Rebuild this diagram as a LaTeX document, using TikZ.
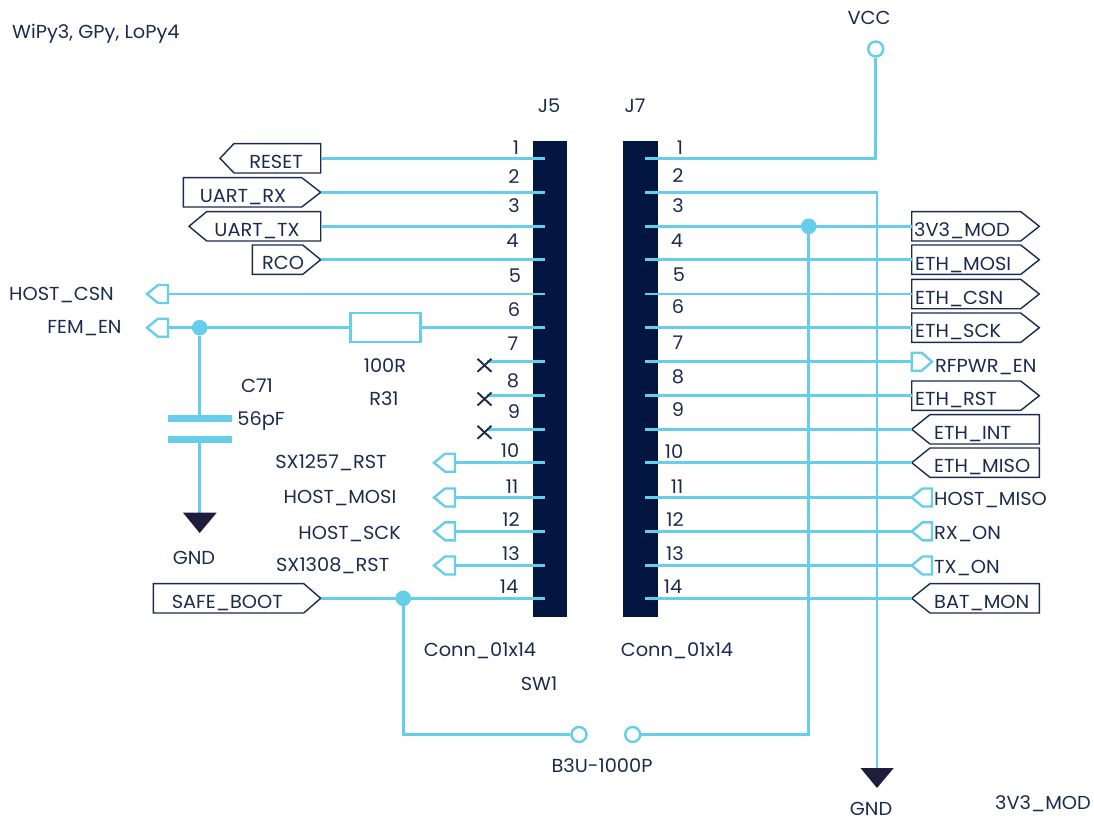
\documentclass[tikz,border=0pt]{standalone}
\usepackage{fontspec}
\setmainfont[FakeStretch=1.03]{Poppins}
\definecolor{wireblue}{HTML}{66CDEA}
\definecolor{navy}{HTML}{02163F}
\definecolor{ink}{HTML}{1B2B50}
\definecolor{gndfill}{HTML}{1F1D3C}
\tikzset{
  wire/.style={draw=wireblue,line width=2.6pt},
  flagbox/.style={draw=ink,line width=1.4pt,fill=white,line join=miter},
  portbox/.style={draw=wireblue,line width=2.4pt,fill=white,line join=miter},
  dotj/.style={circle,fill=wireblue,inner sep=0pt,minimum size=15.3pt},
  ring/.style={circle,draw=wireblue,line width=2.4pt,fill=white,inner sep=0pt,minimum size=15pt},
  gndsym/.style={fill=gndfill,draw=none},
  lab/.style={text=ink,font=\fontsize{18.8}{20}\selectfont,inner sep=0pt,text height=13pt,text depth=0pt},
  labl/.style={lab,anchor=west},
  nx/.style={draw=ink,line width=1.9pt},
}
\newcommand{\flagbox}[5]{\coordinate (#1) at (#4,#5);
  \draw[flagbox] (#2,#5-14.7)--(#3,#5-14.7)--(#4,#5)--(#3,#5+14.7)--(#2,#5+14.7)--cycle;}
\newcommand{\portL}[5]{\coordinate (#1) at (#5,#4);
  \draw[portbox] (#2,#4)--(#3,#4-9)--(#5,#4-9)--(#5,#4+9)--(#3,#4+9)--cycle;}
\begin{document}
\begin{tikzpicture}[x=1pt,y=-1pt]
\useasboundingbox (0,0) rectangle (1094,821);
% connector bars
\fill[navy] (533,141) rectangle (567.3,617.3);
\fill[navy] (623.3,141) rectangle (657.7,617.3);
\foreach \i/\y in {1/158.3,2/192.3,3/226.3,4/259.7,5/294,6/327.7,7/361.7,8/395.7,9/429.3,10/462.7,11/497.5,12/531.3,13/565.5,14/598.3}{
  \coordinate (L\i) at (545.3,\y);
  \coordinate (R\i) at (645.3,\y);
}
% flags left
\flagbox{fReset}{320.7}{234}{220}{158.3}
\flagbox{fRx}{183.3}{301.7}{320.7}{192.3}
\flagbox{fTx}{320.7}{206.7}{189}{226.3}
\flagbox{fRco}{252.3}{302.7}{320.7}{259.7}
\flagbox{fSafe}{153.3}{303.7}{320.7}{598.3}
\coordinate (fResetEnd) at (320.7,158.3);
\coordinate (fTxEnd) at (320.7,226.3);
% flags right
\flagbox{f3v3}{911.7}{1020.7}{1039.3}{226.3}
\flagbox{fMosi}{911.7}{1020.7}{1039.3}{259.7}
\flagbox{fCsn}{911.7}{1020.7}{1039.3}{294}
\flagbox{fSck}{911.7}{1020.7}{1039.3}{327.7}
\flagbox{fRst}{911.7}{1020.7}{1039.3}{395.7}
\flagbox{fInt}{1039.3}{930}{911.7}{429.3}
\flagbox{fMiso}{1039.3}{930}{911.7}{462.7}
\flagbox{fBat}{1039.3}{930}{911.7}{598.3}
\coordinate (e3v3) at (911.7,226.3);
\coordinate (eMosi) at (911.7,259.7);
\coordinate (eCsn) at (911.7,294);
\coordinate (eSck) at (911.7,327.7);
\coordinate (eRst) at (911.7,395.7);
% small ports
\portL{pCsn}{147}{158}{294}{168}
\portL{pFem}{147}{158}{327.7}{168}
\portL{p1257}{434}{445}{462.7}{455}
\portL{pMosi}{434}{445}{497.5}{455}
\portL{pSckH}{434}{445}{531.3}{455}
\portL{p1308}{434}{445}{565.5}{455}
\coordinate (pHMiso) at (911.7,497.5);
\coordinate (pRx) at (911.7,531.3);
\coordinate (pTx) at (911.7,565.5);
\coordinate (pRf) at (911.7,361.7);
\draw[portbox] (932,361.7)--(921.7,352.7)--(911.7,352.7)--(911.7,370.7)--(921.7,370.7)--cycle;
\draw[portbox] (932,497.5)--(932,488.5)--(922.5,488.5)--(911.7,497.5)--(922.5,506.5)--(932,506.5)--cycle;
\draw[portbox] (932,531.3)--(932,522.3)--(922.5,522.3)--(911.7,531.3)--(922.5,540.3)--(932,540.3)--cycle;
\draw[portbox] (932,565.5)--(932,556.5)--(922.5,556.5)--(911.7,565.5)--(922.5,574.5)--(932,574.5)--cycle;
% resistor
\node[draw=wireblue,line width=2.4pt,fill=white,minimum width=70pt,minimum height=29pt,inner sep=0pt] (R31) at (385.3,327.7) {};
% junctions and rings
\node[dotj] (jFem) at (199.7,327.7) {};
\node[dotj] (j3v3) at (808.7,226.3) {};
\node[dotj] (jSafe) at (403.3,598.3) {};
\node[ring] (vcc) at (875.7,49) {};
\node[ring] (swA) at (579,734.5) {};
\node[ring] (swB) at (632.7,734.5) {};
% capacitor
\node[fill=wireblue,minimum width=64pt,minimum height=7pt,inner sep=0pt] (capT) at (199.7,418.5) {};
\node[fill=wireblue,minimum width=64pt,minimum height=7pt,inner sep=0pt] (capB) at (199.7,439.5) {};
% gnd
\coordinate (g1) at (199.7,512.7);
\coordinate (g2) at (877,768);
\coordinate (corner1) at (875.7,158.3);
\coordinate (corner2) at (877,192.3);
\coordinate (swL) at (403.3,734.5);
\coordinate (swR) at (808.7,734.5);
% no-connect ends
\coordinate (x7) at (487,361.7);
\coordinate (x8) at (487,395.7);
\coordinate (x9) at (487,429.3);
% wires
\draw[wire] (vcc.south) -- (corner1) -- (R1);
\draw[wire] (R2) -- (corner2) -- (g2);
\draw[wire] (j3v3) -- (swR) -- (swB.east);
\draw[wire] (swA.west) -- (swL) -- (jSafe);
\draw[wire] (L1) -- (fResetEnd);
\draw[wire] (L2) -- (fRx);
\draw[wire] (L3) -- (fTxEnd);
\draw[wire] (L4) -- (fRco);
\draw[wire] (L5) -- (pCsn);
\draw[wire] (L6) -- (R31.east);
\draw[wire] (R31.west) -- (pFem);
\draw[wire] (L7) -- (x7);
\draw[wire] (L8) -- (x8);
\draw[wire] (L9) -- (x9);
\draw[wire] (L10) -- (p1257);
\draw[wire] (L11) -- (pMosi);
\draw[wire] (L12) -- (pSckH);
\draw[wire] (L13) -- (p1308);
\draw[wire] (L14) -- (fSafe);
\draw[wire] (R3) -- (e3v3);
\draw[wire] (R4) -- (eMosi);
\draw[wire] (R5) -- (eCsn);
\draw[wire] (R6) -- (eSck);
\draw[wire] (R7) -- (pRf);
\draw[wire] (R8) -- (eRst);
\draw[wire] (R9) -- (fInt);
\draw[wire] (R10) -- (fMiso);
\draw[wire] (R11) -- (pHMiso);
\draw[wire] (R12) -- (pRx);
\draw[wire] (R13) -- (pTx);
\draw[wire] (R14) -- (fBat);
\draw[wire] (jFem) -- (capT);
\draw[wire] (capB) -- (g1);
% junctions on top
\node[dotj] at (199.7,327.7) {};
\node[dotj] at (808.7,226.3) {};
\node[dotj] at (403.3,598.3) {};
% gnd triangles
\fill[gndsym] (183,512.7)--(216.7,512.7)--(199.7,533)--cycle;
\fill[gndsym] (860.5,768)--(893.7,768)--(877,788)--cycle;
% X marks
\foreach \y in {365.3,399,432.3}{
  \draw[nx] (477.5,\y-6.5)--(491.5,\y+6.5);
  \draw[nx] (477.5,\y+6.5)--(491.5,\y-6.5);
}
% free text
\node[labl] (tTitle) at (12,32) {WiPy3, GPy, LoPy4};
\node[lab] (tVcc) at (869,18) {VCC};
\node[lab] (tJ5) at (549,106) {J5};
\node[lab] (tJ7) at (635,106) {J7};
\node[lab] (tCsn) at (61.5,294) {HOST\_CSN};
\node[lab] (tFem) at (84.5,327) {FEM\_EN};
\node[lab] (t100) at (385,366) {100R};
\node[lab] (tR31) at (384,399) {R31};
\node[lab] (tC71) at (257,386) {C71};
\node[lab] (t56) at (261,419) {56pF};
\node[lab] (tG1) at (194,558) {GND};
\node[lab] (tG2) at (871,808.5) {GND};
\node[lab] (t1257) at (331,462) {SX1257\_RST};
\node[lab] (tMosi) at (340,497) {HOST\_MOSI};
\node[lab] (tSckH) at (349.7,533) {HOST\_SCK};
\node[lab] (t1308) at (332.7,565) {SX1308\_RST};
\node[lab] (tConnA) at (480,650) {Conn\_01x14};
\node[lab] (tConnB) at (677,650) {Conn\_01x14};
\node[lab] (tSW) at (539,684) {SW1};
\node[lab] (tB3U) at (602,766) {B3U-1000P};
\node[lab] (tMod) at (1043,803) {3V3\_MOD};
% flag text
\node[lab] (tReset) at (276,162) {RESET};
\node[lab] (tRx) at (243,196) {UART\_RX};
\node[lab] (tTx) at (257,229.5) {UART\_TX};
\node[lab] (tRco) at (283,263) {RCO};
\node[lab] (tSafe) at (227.3,601.5) {SAFE\_BOOT};
\node[labl] (t3v3) at (914,229.5) {3V3\_MOD};
\node[labl] (tEMosi) at (915,263.5) {ETH\_MOSI};
\node[labl] (tECsn) at (915,297.5) {ETH\_CSN};
\node[labl] (tESck) at (915,330.5) {ETH\_SCK};
\node[labl] (tRf) at (935,365.5) {RFPWR\_EN};
\node[labl] (tERst) at (915,398.5) {ETH\_RST};
\node[labl] (tEInt) at (934,432.5) {ETH\_INT};
\node[labl] (tEMiso) at (934,465.5) {ETH\_MISO};
\node[labl] (tHMiso) at (934,499) {HOST\_MISO};
\node[labl] (tRxO) at (934,532.5) {RX\_ON};
\node[labl] (tTxO) at (934,566.5) {TX\_ON};
\node[labl] (tBat) at (934,601.5) {BAT\_MON};
% pin numbers
\foreach \n/\x/\y in {1/516/148,2/514/177,3/514/205.5,4/512.5/240.5,5/515/276,6/514/310,7/513/344,8/513/381,9/514/412,10/510/451,11/512/486.5,12/511/520,13/511/553.5,14/509/587}{
  \node[lab] (nL\n) at (\x,\y) {\n};
}
\foreach \n/\x/\y in {1/680/148,2/678/176,3/678/206,4/677/241,5/679/275,6/678/307,7/678/343,8/678/377,9/678/410,10/674/452,11/677/486.5,12/675/519.5,13/675/553.5,14/673/587}{
  \node[lab] (nR\n) at (\x,\y) {\n};
}
\end{tikzpicture}
\end{document}
